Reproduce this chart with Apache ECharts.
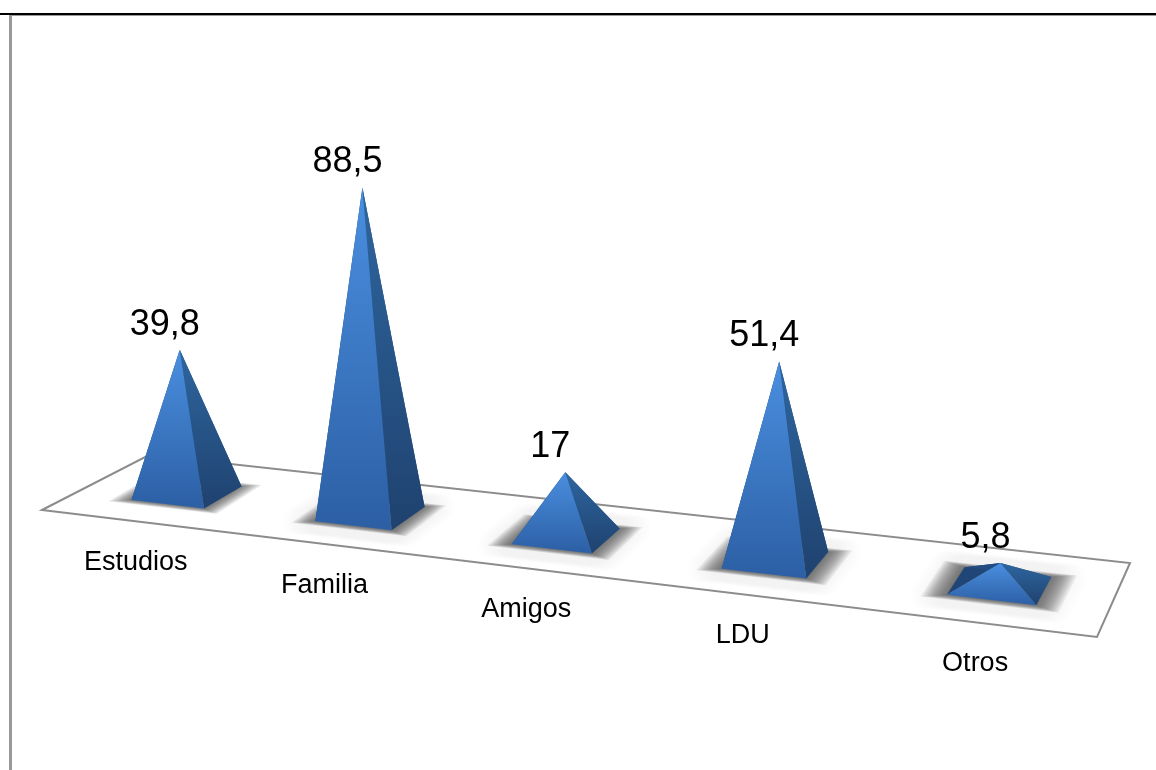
<!DOCTYPE html>
<html><head><meta charset="utf-8">
<style>html,body{margin:0;padding:0;background:#fff}#c{width:1156px;height:770px}</style>
<script src="https://cdn.jsdelivr.net/npm/echarts@6/dist/echarts.min.js"></script>
</head><body><div id="c"></div>
<script>
const categories = ['Estudios','Familia','Amigos','LDU','Otros'];
const values = [39.8,88.5,17,51.4,5.8];

const GRID = {left:42,top:100,width:1055,height:370};
const QUAD = [[42,510],[1097,637],[1130,563],[138,456]];
const FLOOR = [[42,510],[1097,637],[1130,563],[149,455]];
const H = (function(){
  const [p0,p1,p2,p3]=QUAD;
  const dx1=p1[0]-p2[0],dx2=p3[0]-p2[0],sx=p0[0]-p1[0]+p2[0]-p3[0];
  const dy1=p1[1]-p2[1],dy2=p3[1]-p2[1],sy=p0[1]-p1[1]+p2[1]-p3[1];
  const den=dx1*dy2-dx2*dy1;
  const g=(sx*dy2-dx2*sy)/den,h=(dx1*sy-sx*dy1)/den;
  return {a:p1[0]-p0[0]+g*p1[0],b:p3[0]-p0[0]+h*p3[0],c:p0[0],
          d:p1[1]-p0[1]+g*p1[1],e:p3[1]-p0[1]+h*p3[1],f:p0[1],g,h};
})();
function proj(u,v){const w=H.g*u+H.h*v+1;return [(H.a*u+H.b*v+H.c)/w,(H.d*u+H.e*v+H.f)/w];}
const grad=(t,b)=>({type:'linear',x:0,y:0,x2:0,y2:1,colorStops:[{offset:0,color:t},{offset:1,color:b}]});
const poly=(points,fill,extra)=>({type:'polygon',shape:{points},style:Object.assign({fill},extra||{})});

function renderPyramid(params,api){
  const i=api.value(0),val=api.value(1);
  const p0=api.coord([i,0]),pv=api.coord([i,val]);
  const u0=(p0[0]-GRID.left)/GRID.width;
  const u=u0+0.0045+0.0045-0.012*(u0-0.3)*(u0-0.3);
  const hw=0.041-0.004*u,v0=0.30,v1=0.69;
  const back=3*(1-u);
  const FL=proj(u-hw,v0),FR=proj(u+hw,v0),BR=proj(u+hw,v1),BL=proj(u-hw,v1);
  BR[0]+=back;BL[0]+=back;
  const c=proj(u,(v0+v1)/2);
  const h=(p0[1]-pv[1])*(0.96+0.12*u);
  const apex=[c[0]+1.05e-4*(c[0]-570)*h,c[1]-h];
  const lab=proj(u,0);
  const shadow=[];
  const N=12;
  for(let k=N;k>=1;k--){
    const t=k/N, du=0.02*t, dv=0.06*t;
    shadow.push(poly([proj(u-hw-du,v0-dv),proj(u+hw+du,v0-dv),proj(u+hw+du,v1+dv),proj(u-hw-du,v1+dv)],
      'rgba(50,50,50,0.075)',{shadowBlur:10,shadowColor:'rgba(50,50,50,0.12)'}));
  }
  return {type:'group',children:shadow.concat([
    poly([apex,FL,BL],'#1f4676'),
    poly([apex,BL,BR],'#234d82'),
    poly([apex,FR,BR],grad('#2e669f','#1f426f')),
    poly([apex,FL,FR],grad('#4a8fe0','#2c5fa4')),
    {type:'text',style:{text:String(val).replace('.',','),x:apex[0]-15,y:apex[1]-25,
      font:'36px "Liberation Sans"',fill:'#000',align:'center',verticalAlign:'middle'}},
    {type:'text',style:{text:categories[i],x:lab[0]-3,y:lab[1]+41,
      font:'27px "Liberation Sans"',fill:'#000',align:'center',verticalAlign:'middle'}}
  ])};
}
function renderFloor(){
  return poly(FLOOR,'#fff',{stroke:'#8c8c8c',lineWidth:2});
}
const chart=echarts.init(document.getElementById('c'),null,{renderer:'canvas'});
chart.setOption({
  animation:false,backgroundColor:'#fff',
  grid:GRID,
  xAxis:{type:'category',data:categories,show:false},
  yAxis:{type:'value',min:0,max:100,show:false},
  graphic:[
    {type:'rect',shape:{x:0,y:13,width:1156,height:2},style:{fill:'#000'},z:10},
    {type:'rect',shape:{x:10,y:15,width:1146,height:1},style:{fill:'#999'},z:10},
    {type:'rect',shape:{x:9,y:15,width:3,height:755},style:{fill:'#999'},z:10}
  ],
  series:[
    {type:'custom',coordinateSystem:'cartesian2d',data:[[0,0]],renderItem:renderFloor,z:1,silent:true},
    {type:'custom',coordinateSystem:'cartesian2d',encode:{x:0,y:1},
     data:values.map((v,i)=>[i,v]),renderItem:renderPyramid,z:2,silent:true}
  ]
});
</script></body></html>
